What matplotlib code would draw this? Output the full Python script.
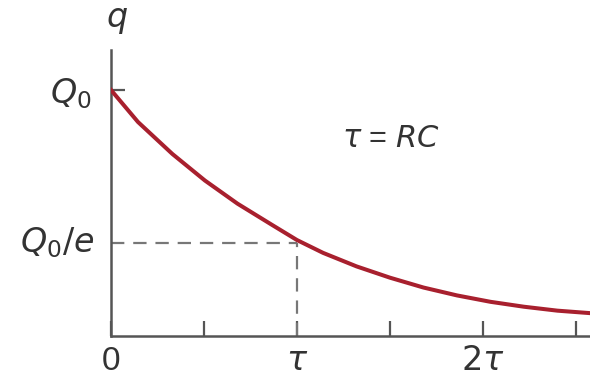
import matplotlib.pyplot as plt

# time in units of tau, charge in units of Q0
t_values = [0.0, 0.145, 0.33, 0.505, 0.68, 0.865, 1.0, 1.14, 1.32, 1.50,
            1.68, 1.86, 2.04, 2.22, 2.40, 2.575]
q_values = [1.0, 0.87, 0.74, 0.632, 0.538, 0.452, 0.39, 0.338, 0.283, 0.237,
            0.197, 0.165, 0.139, 0.119, 0.103, 0.093]

x_ticks = [0, 0.5, 1, 1.5, 2, 2.5]
x_tick_labels = ["0", "", r"$\tau$", "", r"$2\tau$", ""]
y_ticks = [1.0]
y_tick_labels = [r"$Q_0$"]
tau_point = 1.0
q_at_tau = 0.378


def main() -> None:
    plt.rcParams['mathtext.fontset'] = 'dejavusans'
    plt.rcParams['font.family'] = ['Liberation Sans', 'DejaVu Sans']

    fig = plt.figure(figsize=(5.9, 3.81), dpi=100)
    ax = fig.add_axes([111 / 590, 45 / 381, 479 / 590, 286 / 381])

    axis_color = '#555555'
    text_color = '#333333'
    ax.plot(t_values, q_values, color='#a8202e', linewidth=2.9,
            solid_joinstyle='round', zorder=3)

    # dashed guides to the point (tau, Q0/e)
    ax.plot([0, tau_point], [q_at_tau, q_at_tau], color='#777777', linewidth=1.6,
            dashes=(6, 4), zorder=2)
    ax.plot([tau_point, tau_point], [0, q_at_tau], color='#777777', linewidth=1.6,
            dashes=(6, 4), zorder=2)

    ax.set_xlim(0, 479 / 186)
    ax.set_ylim(0, 286 / 246)

    for side in ('top', 'right'):
        ax.spines[side].set_visible(False)
    for side in ('left', 'bottom'):
        ax.spines[side].set_color(axis_color)
        ax.spines[side].set_linewidth(1.8)

    ax.set_xticks(x_ticks)
    ax.set_xticklabels(x_tick_labels, fontsize=24, color=text_color)
    ax.tick_params(axis='x', direction='in', length=11, width=1.6, color=axis_color, pad=7)

    ax.set_yticks(y_ticks)
    ax.set_yticklabels(y_tick_labels, fontsize=24, color=text_color)
    ax.tick_params(axis='y', direction='in', length=10, width=1.6, color=axis_color, pad=14)

    ax.text(-0.09, q_at_tau, r"$Q_0/e$", fontsize=24, color=text_color,
            ha='right', va='center', transform=ax.transData)

    ax.text(1.24, 0.8, r"$\tau$ = $RC$", fontsize=22, color=text_color, ha='left', va='center')

    fig.text(117 / 590, 1 - 20 / 381, r"$q$", fontsize=24, color=text_color,
             ha='center', va='center')

    fig.savefig("out.png", dpi=100)


if __name__ == '__main__':
    main()
